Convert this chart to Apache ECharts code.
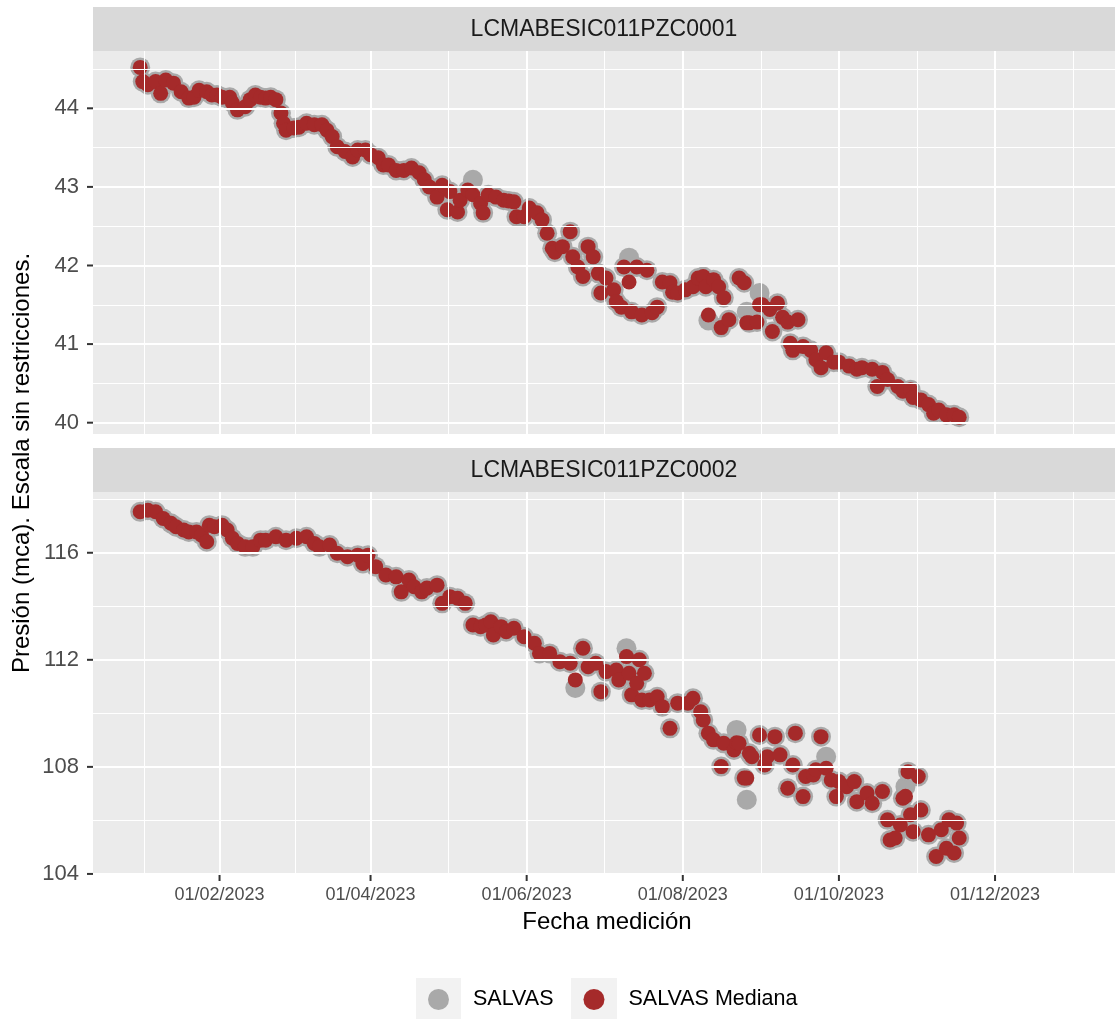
<!DOCTYPE html>
<html><head><meta charset="utf-8">
<script src="https://cdn.jsdelivr.net/npm/echarts@6/dist/echarts.min.js"></script>
<style>html,body{margin:0;padding:0;background:#fff}#c{width:1115px;height:1021px}</style>
</head><body><div id="c"></div>
<script>
// ---- data (x = days since 01/01/2023) ----
const panelNames = ['LCMABESIC011PZC0001', 'LCMABESIC011PZC0002'];
const seriesNames = ['SALVAS', 'SALVAS Mediana'];

const xTickDays = [31, 90, 151, 212, 273, 334];
const xTickLabels = ['01/02/2023', '01/04/2023', '01/06/2023', '01/08/2023', '01/10/2023', '01/12/2023'];
const xMinorDays = [1.5, 60.5, 120.5, 181.5, 242.5, 303.5, 364.5];

const p1YTicks = [40, 41, 42, 43, 44];
const p1YMinor = [40.5, 41.5, 42.5, 43.5, 44.5];
const p2YTicks = [104, 108, 112, 116];
const p2YMinor = [106, 110, 114, 118];

const p1Days = [0,1,3,6,8,10,13,16,19,21,23,26,28,30,32,35,36,38,41,43,45,47,49,51,53,55,56,57,60,62,65,68,71,73,75,77,80,83,85,88,90,93,95,97,100,103,106,109,111,113,116,118,120,121,124,125,128,130,133,134,136,139,142,144,146,147,150,152,155,157,159,161,162,165,168,169,171,173,175,177,179,180,182,185,186,188,189,191,192,194,196,198,200,202,204,207,208,210,213,216,218,220,221,222,224,226,227,228,230,234,236,237,238,241,242,243,246,247,249,251,253,254,255,257,259,262,264,266,268,271,273,277,280,282,286,288,290,292,296,298,301,302,305,308,310,312,315,318,320];
const p1Mediana = [44.52,44.34,44.30,44.34,44.19,44.36,44.32,44.21,44.13,44.14,44.23,44.21,44.17,44.17,44.14,44.14,44.07,43.98,44.02,44.11,44.17,44.14,44.13,44.14,44.11,43.94,43.81,43.72,43.75,43.76,43.81,43.79,43.79,43.72,43.64,43.51,43.45,43.38,43.47,43.47,43.41,43.37,43.28,43.28,43.21,43.21,43.24,43.18,43.09,43.00,42.87,43.02,42.71,42.94,42.68,42.83,42.96,42.90,42.79,42.67,42.90,42.87,42.83,42.82,42.81,42.62,42.62,42.73,42.67,42.58,42.41,42.22,42.17,42.24,42.43,42.11,41.98,41.86,42.24,42.11,41.90,41.65,41.84,41.69,41.54,41.47,41.98,41.79,41.41,41.98,41.37,41.94,41.40,41.47,41.79,41.78,41.66,41.65,41.69,41.73,41.84,41.86,41.73,41.37,41.82,41.73,41.21,41.59,41.31,41.84,41.78,41.27,41.27,41.28,41.50,41.50,41.44,41.16,41.52,41.34,41.28,41.01,40.92,41.31,40.97,40.92,40.80,40.70,40.89,40.77,40.77,40.72,40.68,40.70,40.68,40.46,40.64,40.55,40.46,40.40,40.42,40.32,40.29,40.23,40.12,40.16,40.10,40.10,40.07];
const p1Salvas = [44.52,44.34,44.30,44.34,44.19,44.36,44.32,44.21,44.13,44.14,44.23,44.21,44.17,44.17,44.14,44.14,44.07,43.98,44.02,44.11,44.17,44.14,44.13,44.14,44.11,43.94,43.81,43.72,43.75,43.76,43.81,43.79,43.79,43.72,43.64,43.51,43.45,43.38,43.47,43.47,43.41,43.37,43.28,43.28,43.21,43.21,43.24,43.18,43.09,43.00,42.87,43.02,42.71,42.94,42.68,42.83,42.96,43.09,42.79,42.67,42.90,42.87,42.83,42.82,42.81,42.62,42.62,42.73,42.67,42.58,42.41,42.22,42.17,42.24,42.43,42.11,41.98,41.86,42.24,42.11,41.90,41.65,41.84,41.69,41.54,41.47,41.98,42.10,41.41,41.98,41.37,41.94,41.40,41.47,41.79,41.78,41.66,41.65,41.69,41.73,41.84,41.86,41.73,41.30,41.82,41.73,41.21,41.59,41.31,41.84,41.78,41.41,41.27,41.28,41.65,41.50,41.44,41.16,41.52,41.34,41.28,41.01,40.92,41.31,40.97,40.92,40.80,40.70,40.89,40.77,40.77,40.72,40.68,40.70,40.68,40.46,40.64,40.55,40.46,40.40,40.42,40.32,40.29,40.23,40.12,40.16,40.10,40.10,40.07];

const p2Days = [0,3,6,9,12,14,17,19,22,24,26,27,29,32,34,36,38,41,44,47,49,53,57,61,65,68,70,74,77,81,85,87,89,92,96,100,102,105,107,110,112,116,118,121,124,127,130,133,135,137,138,141,143,146,150,154,156,160,164,168,170,173,175,178,180,182,186,187,190,191,192,194,195,196,197,199,202,204,207,210,214,216,219,220,222,224,227,228,232,233,234,236,237,238,239,242,244,245,248,250,253,255,256,259,260,263,264,266,268,270,272,273,276,279,280,284,286,290,292,293,295,297,298,299,300,301,302,304,305,308,311,313,315,316,318,319,320];
const p2Mediana = [117.53,117.59,117.53,117.28,117.10,116.97,116.85,116.78,116.78,116.66,116.41,117.03,116.97,117.03,116.85,116.54,116.35,116.22,116.22,116.47,116.47,116.60,116.47,116.54,116.60,116.35,116.22,116.29,115.98,115.85,115.91,115.60,115.91,115.48,115.17,115.10,114.54,114.98,114.73,114.54,114.68,114.79,114.11,114.36,114.30,114.11,113.30,113.24,113.30,113.42,112.93,113.24,113.05,113.18,112.86,112.62,112.24,112.24,111.93,111.87,111.25,112.43,111.74,111.87,110.81,111.56,111.62,111.25,112.12,111.50,110.69,111.12,112.00,110.50,111.50,110.50,110.62,110.25,109.44,110.38,110.38,110.56,110.06,109.75,109.26,109.01,108.01,108.88,108.63,108.90,108.88,107.58,107.58,108.51,108.38,109.19,108.07,108.38,109.13,108.45,107.20,108.07,109.26,106.89,107.64,107.70,107.89,109.13,107.95,107.51,106.89,107.45,107.26,107.45,106.70,107.02,106.64,107.08,106.02,105.27,105.34,105.83,106.83,106.90,107.82,106.21,105.58,107.64,106.39,105.46,104.65,105.65,104.96,106.02,104.78,105.90,105.34];
const p2Salvas = [117.53,117.59,117.53,117.28,117.10,116.97,116.85,116.78,116.78,116.66,116.41,117.03,116.97,117.03,116.85,116.54,116.35,116.22,116.22,116.47,116.47,116.60,116.47,116.54,116.60,116.35,116.22,116.29,115.98,115.85,115.91,115.60,115.91,115.48,115.17,115.10,114.54,114.98,114.73,114.54,114.68,114.79,114.11,114.36,114.30,114.11,113.30,113.24,113.30,113.42,112.93,113.24,113.05,113.18,112.86,112.62,112.24,112.24,111.93,111.87,110.95,112.43,111.74,111.87,110.81,111.56,111.62,111.25,112.43,111.50,110.69,111.12,112.00,110.50,111.50,110.50,110.62,110.25,109.44,110.38,110.38,110.56,110.06,109.75,109.26,109.01,108.01,108.88,108.63,109.38,108.88,107.58,106.77,108.51,108.38,109.19,108.07,108.38,109.13,108.45,107.20,108.07,109.26,106.89,107.64,107.70,107.89,109.13,108.38,107.51,106.89,107.45,107.26,107.45,106.70,107.02,106.64,107.08,106.02,105.27,105.34,105.83,106.83,107.26,107.82,106.21,105.58,107.64,106.39,105.46,104.65,105.65,104.96,106.02,104.78,105.90,105.34];

// ---- chart ----
const FONT = '"Liberation Sans", Arial, Helvetica, sans-serif';
const GREY = '#A9A9A9', RED = '#A52A2A';
const L = 93, W = 1022;
const panels = [
  { top: 51, height: 383, yMin: 39.856, yMax: 44.729, ticks: p1YTicks, minor: p1YMinor, days: p1Days, med: p1Mediana, sal: p1Salvas },
  { top: 492, height: 383, yMin: 103.96, yMax: 118.27, ticks: p2YTicks, minor: p2YMinor, days: p2Days, med: p2Mediana, sal: p2Salvas }
];
const X_MIN = -18.44, X_MAX = 380.87;
const TICK_LEN = 6, TICK_COLOR = '#333333';

const grid = [], xAxis = [], yAxis = [], series = [], graphic = [];
panels.forEach((p, i) => {
  grid.push({ left: L, top: p.top, width: W, height: p.height, show: true, backgroundColor: '#EBEBEB', borderWidth: 0 });
  const isBottom = i === panels.length - 1;
  xAxis.push({
    gridIndex: i, type: 'value', min: X_MIN, max: X_MAX,
    axisLine: { show: false }, splitLine: { show: false }, axisTick: { show: false },
    axisLabel: {
      show: isBottom, customValues: xTickDays, fontSize: 18, color: '#4D4D4D', fontFamily: FONT, margin: 11, lineHeight: 18,
      formatter: v => { const k = xTickDays.indexOf(Math.round(v)); return k >= 0 ? xTickLabels[k] : ''; }
    }
  });
  yAxis.push({
    gridIndex: i, type: 'value', min: p.yMin, max: p.yMax,
    axisLine: { show: false }, splitLine: { show: false }, axisTick: { show: false },
    axisLabel: { customValues: p.ticks, fontSize: 22, color: '#4D4D4D', fontFamily: FONT, margin: 14 }
  });
  const ml = [];
  p.minor.forEach(v => ml.push({ yAxis: v, lineStyle: { width: 1 } }));
  xMinorDays.forEach(v => ml.push({ xAxis: v, lineStyle: { width: 1 } }));
  p.ticks.forEach(v => ml.push({ yAxis: v, lineStyle: { width: 2 } }));
  xTickDays.forEach(v => ml.push({ xAxis: v, lineStyle: { width: 2 } }));
  series.push({
    type: 'line', xAxisIndex: i, yAxisIndex: i, data: [], silent: true, z: 1, animation: false,
    markLine: { silent: true, animation: false, symbol: ['none', 'none'], label: { show: false },
      lineStyle: { color: '#FFFFFF', type: 'solid' }, emphasis: { disabled: true }, data: ml }
  });
  series.push({
    name: seriesNames[0], type: 'scatter', xAxisIndex: i, yAxisIndex: i, z: 2, symbolSize: 20,
    itemStyle: { color: GREY, opacity: 1 }, emphasis: { disabled: true },
    data: p.days.map((d, k) => [d, p.sal[k]])
  });
  series.push({
    name: seriesNames[1], type: 'scatter', xAxisIndex: i, yAxisIndex: i, z: 3, symbolSize: 15,
    itemStyle: { color: RED, opacity: 1 }, emphasis: { disabled: true },
    data: p.days.map((d, k) => [d, p.med[k]])
  });
  const stripTop = p.top - 44;
  graphic.push({ type: 'rect', z: 0, shape: { x: L, y: stripTop, width: W, height: 44 }, style: { fill: '#D9D9D9' } });
  graphic.push({ type: 'text', z: 1, x: L + W / 2, y: stripTop + 22.5,
    style: { text: panelNames[i], fill: '#1A1A1A', font: '23px ' + FONT, align: 'center', verticalAlign: 'middle' } });
});

// axis titles
graphic.push({ type: 'text', x: 607, y: 922, style: { text: 'Fecha medición', fill: '#000', font: '24px ' + FONT, align: 'center', verticalAlign: 'middle' } });
graphic.push({ type: 'text', x: 22, y: 463, rotation: Math.PI / 2, style: { text: 'Presión (mca). Escala sin restricciones.', fill: '#000', font: '24px ' + FONT, align: 'center', verticalAlign: 'middle' } });
// legend key backgrounds
graphic.push({ type: 'rect', z: 0, shape: { x: 416, y: 978, width: 45, height: 41 }, style: { fill: '#F2F2F2' } });
graphic.push({ type: 'rect', z: 0, shape: { x: 571, y: 978, width: 46, height: 41 }, style: { fill: '#F2F2F2' } });

const chart = echarts.init(document.getElementById('c'), null, { renderer: 'canvas' });
chart.setOption({
  animation: false,
  backgroundColor: '#FFFFFF',
  grid, xAxis, yAxis, series, graphic,
  legend: {
    data: [{ name: seriesNames[0], icon: 'circle' }, { name: seriesNames[1], icon: 'circle' }],
    left: 428, top: 988.5, orient: 'horizontal', padding: 0,
    itemWidth: 21, itemHeight: 21, itemGap: 30, selectedMode: false,
    textStyle: { fontSize: 21.5, color: '#000', fontFamily: FONT, lineHeight: 21, padding: [0, 0, 0, 19] }
  }
});

// axis tick marks, placed through the axes' own scales
panels.forEach((p, i) => {
  p.ticks.forEach(v => {
    const y = chart.convertToPixel({ yAxisIndex: i }, v);
    graphic.push({ type: 'line', z: 5, shape: { x1: L - TICK_LEN, y1: y, x2: L, y2: y }, style: { stroke: TICK_COLOR, lineWidth: 2 } });
  });
});
const bottomY = panels[1].top + panels[1].height;
xTickDays.forEach(d => {
  const x = chart.convertToPixel({ xAxisIndex: 1 }, d);
  graphic.push({ type: 'line', z: 5, shape: { x1: x, y1: bottomY, x2: x, y2: bottomY + TICK_LEN }, style: { stroke: TICK_COLOR, lineWidth: 2 } });
});
chart.setOption({ graphic: graphic });
</script></body></html>
